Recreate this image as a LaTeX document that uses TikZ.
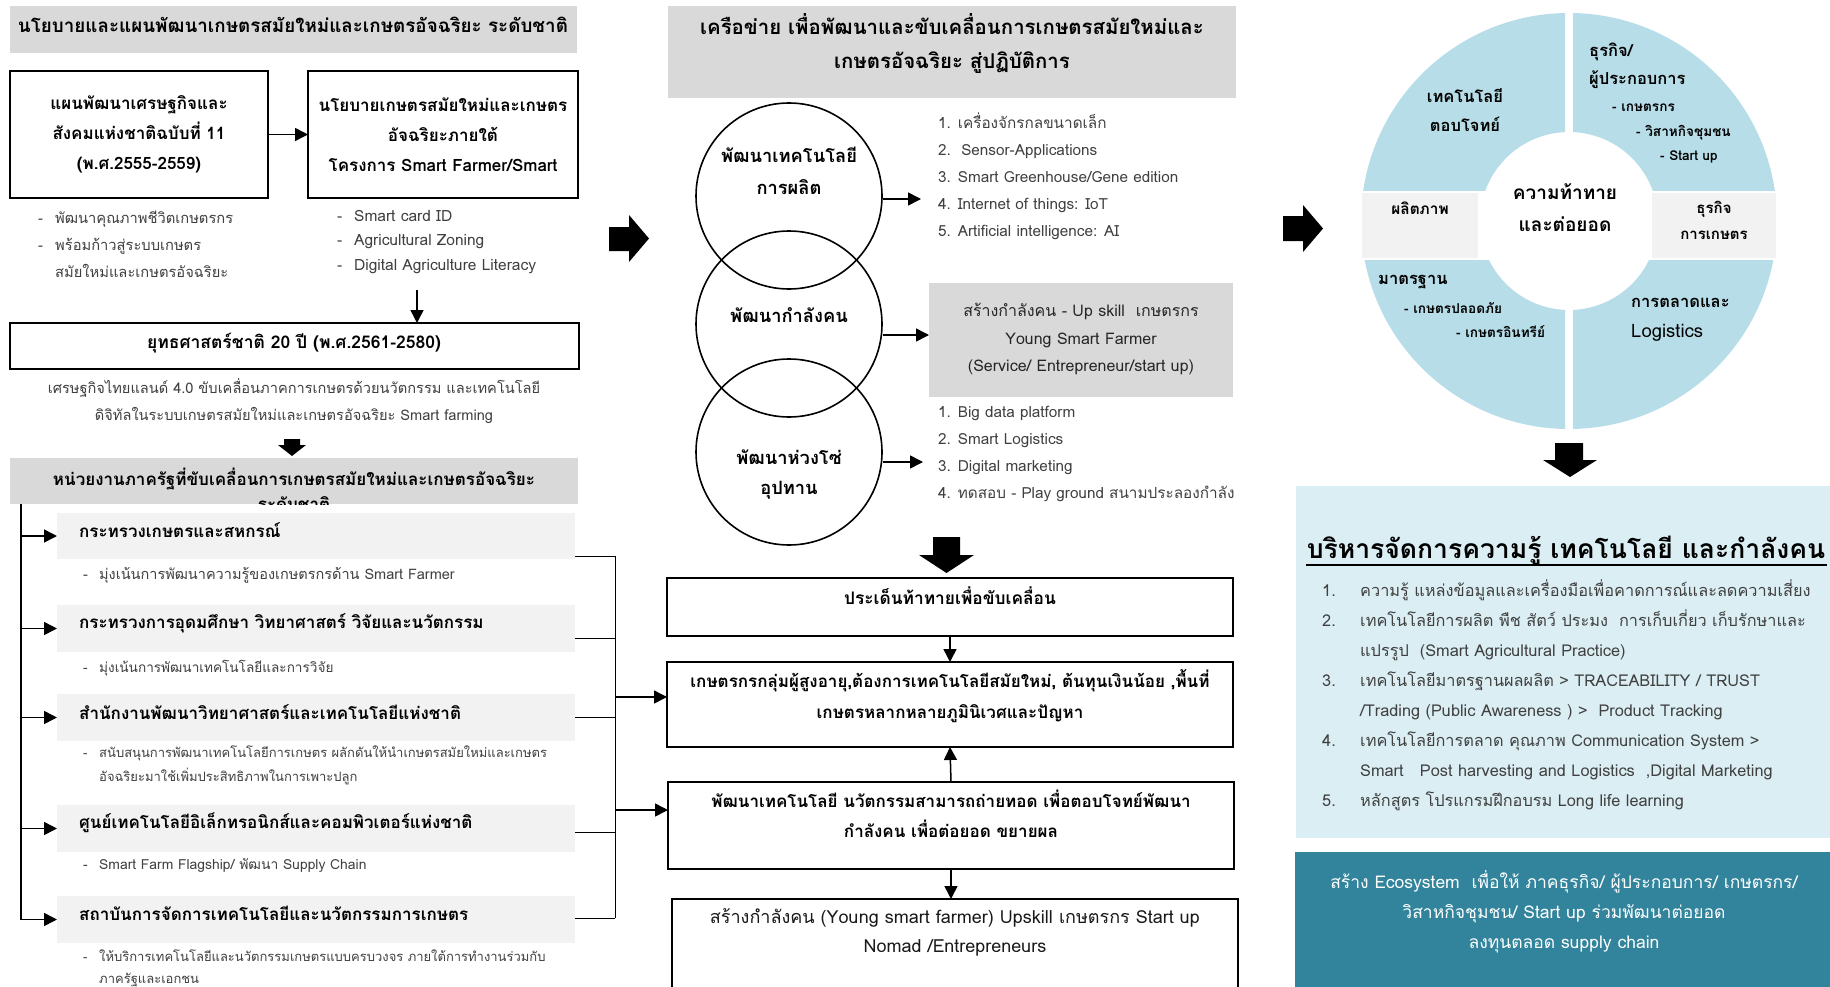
\documentclass[tikz,border=0pt]{standalone}
\usepackage{fontspec}
\setmainfont[Script=Thai]{Loma}
\usetikzlibrary{arrows.meta}
\definecolor{hdrgray}{HTML}{D9D9D9}
\definecolor{orggray}{HTML}{F2F2F2}
\definecolor{txtgray}{HTML}{404040}
\definecolor{ringblue}{HTML}{B7DDE8}
\definecolor{paleblue}{HTML}{DAEEF3}
\definecolor{ecoteal}{HTML}{31849B}
\newcommand{\tfs}[2]{\fontsize{#1}{#2}\selectfont}
\begin{document}
\begin{tikzpicture}[x=1pt,y=-1pt,
  panel/.style={anchor=north west, inner sep=0pt, outer sep=0pt},
  framebox/.style={panel, draw=black, line width=1.3pt, align=center},
  hdrbar/.style={panel, fill=hdrgray},
  orgbar/.style={panel, fill=orggray},
  head/.style={font=\bfseries\tfs{18.8}{33}, align=center, inner sep=0pt},
  orgtitle/.style={anchor=west, inner sep=0pt, font=\bfseries\tfs{17}{20}},
  plain/.style={anchor=west, inner sep=0pt, align=left, text=txtgray},
  ringtxt/.style={inner sep=0pt, font=\bfseries\tfs{16.5}{29}, align=center},
  ringitem/.style={anchor=west, inner sep=0pt, font=\bfseries\tfs{13.6}{16}},
  arr/.style={line width=1.5pt, -{Triangle[length=13pt,width=13pt]}},
  link/.style={line width=1pt},
  ring/.style={circle, draw=black, line width=1.6pt, minimum size=186pt, inner sep=0pt}
]
\useasboundingbox (0,0) rectangle (1830,987);
\clip (0,0) rectangle (1830,987);
\fill[white] (0,0) rectangle (1830,987);

% ================= national policy column =================
\node[hdrbar, minimum width=567pt, minimum height=47pt] (bar1) at (10,6) {};
\node[head] (bar1t) at (293,25) {นโยบายและแผนพัฒนาเกษตรสมัยใหม่และเกษตรอัจฉริยะ ระดับชาติ};

\node[framebox, minimum width=258pt, minimum height=127pt, font=\bfseries\tfs{17}{30}] (b1) at (10,71)
  {แผนพัฒนาเศรษฐกิจและ\\สังคมแห่งชาติฉบับที่ 11\\(พ.ศ.2555-2559)};
\node[framebox, minimum width=270pt, minimum height=127pt, font=\bfseries\tfs{17}{30}] (b2) at (308,71)
  {นโยบายเกษตรสมัยใหม่และเกษตร\\อัจฉริยะภายใต้\\โครงการ Smart Farmer/Smart};
\draw[arr] (b1.east) -- (b2.west);

\node[plain, font=\tfs{14.7}{27}] (bul1) at (38,245)
  {\begin{tabular}{@{}p{17pt}@{}l@{}}- & พัฒนาคุณภาพชีวิตเกษตรกร\\- & พร้อมก้าวสู่ระบบเกษตร\\ & สมัยใหม่และเกษตรอัจฉริยะ\end{tabular}};
\node[plain, font=\tfs{15.5}{24.5}] (bul2) at (337,241)
  {\begin{tabular}{@{}p{17pt}@{}l@{}}- & Smart card ID\\- & Agricultural Zoning\\- & Digital Agriculture Literacy\end{tabular}};

\coordinate (dropTop) at (417,290);
\node[framebox, minimum width=569pt, minimum height=46pt] (b3) at (10,323) {};
\node[font=\bfseries\tfs{17.5}{20}, inner sep=0pt] (b3t) at (294,343) {ยุทธศาสตร์ชาติ 20 ปี (พ.ศ.2561-2580)};
\draw[arr] (dropTop) -- (dropTop |- b3.north);

\node[font=\tfs{14.6}{27}, text=txtgray, align=center, inner sep=0pt] (sub3) at (294,401)
  {เศรษฐกิจไทยแลนด์ 4.0 ขับเคลื่อนภาคการเกษตรด้วยนวัตกรรม และเทคโนโลยี\\ดิจิทัลในระบบเกษตรสมัยใหม่และเกษตรอัจฉริยะ Smart farming};

% block arrow down
\fill (284,439) -- (300,439) -- (300,445) -- (306,445) -- (292,456) -- (278,445) -- (284,445) -- cycle;

\node[hdrbar, minimum width=568pt, minimum height=46pt] (bar2) at (10,458) {};
\begin{scope}
  \clip (bar2.south west) rectangle (bar2.north east);
  \node[head, font=\bfseries\tfs{17}{25}] (bar2t) at (294,489.5)
    {หน่วยงานภาครัฐที่ขับเคลื่อนการเกษตรสมัยใหม่และเกษตรอัจฉริยะ\\ระดับชาติ};
\end{scope}

% agencies
\node[orgbar, minimum width=518pt, minimum height=46pt] (o1) at (57,513) {};
\node[orgbar, minimum width=518pt, minimum height=47pt] (o2) at (57,605) {};
\node[orgbar, minimum width=518pt, minimum height=47pt] (o3) at (57,694) {};
\node[orgbar, minimum width=518pt, minimum height=47pt] (o4) at (57,805) {};
\node[orgbar, minimum width=518pt, minimum height=47pt] (o5) at (57,896) {};
\node[orgtitle] (o1t) at (79,530) {กระทรวงเกษตรและสหกรณ์};
\node[orgtitle] (o2t) at (79,623) {กระทรวงการอุดมศึกษา วิทยาศาสตร์ วิจัยและนวัตกรรม};
\node[orgtitle] (o3t) at (79,712) {สำนักงานพัฒนาวิทยาศาสตร์และเทคโนโลยีแห่งชาติ};
\node[orgtitle] (o4t) at (79,823) {ศูนย์เทคโนโลยีอิเล็กทรอนิกส์และคอมพิวเตอร์แห่งชาติ};
\node[orgtitle] (o5t) at (79,913) {สถาบันการจัดการเทคโนโลยีและนวัตกรรมการเกษตร};

\node[plain, font=\tfs{14.5}{24}] (ob1) at (83,575)
  {\begin{tabular}{@{}p{16pt}@{}l@{}}- & มุ่งเน้นการพัฒนาความรู้ของเกษตรกรด้าน Smart Farmer\end{tabular}};
\node[plain, font=\tfs{13.6}{24}] (ob2) at (83,668)
  {\begin{tabular}{@{}p{16pt}@{}l@{}}- & มุ่งเน้นการพัฒนาเทคโนโลยีและการวิจัย\end{tabular}};
\node[plain, font=\tfs{13}{24}] (ob3) at (83,765)
  {\begin{tabular}{@{}p{16pt}@{}l@{}}- & สนับสนุนการพัฒนาเทคโนโลยีการเกษตร ผลักดันให้นำเกษตรสมัยใหม่และเกษตร\\ & อัจฉริยะมาใช้เพิ่มประสิทธิภาพในการเพาะปลูก\end{tabular}};
\node[plain, font=\tfs{13.9}{24}] (ob4) at (83,865)
  {\begin{tabular}{@{}p{16pt}@{}l@{}}- & Smart Farm Flagship/ พัฒนา Supply Chain\end{tabular}};
\node[plain, font=\tfs{13}{22}] (ob5) at (83,968)
  {\begin{tabular}{@{}p{16pt}@{}l@{}}- & ให้บริการเทคโนโลยีและนวัตกรรมเกษตรแบบครบวงจร ภายใต้การทำงานร่วมกับ\\ & ภาครัฐและเอกชน\end{tabular}};

% trunk on the left
\coordinate (trTop) at (21,504);
\coordinate (trBot) at (21,919.5);
\draw[line width=1.3pt] (trTop) -- (trBot);
\foreach \o in {o1,o2,o3,o4,o5}
  \draw[arr] (\o.west -| trTop) -- (\o.west);

% bracket on the right
\coordinate (bk1) at (615,556);
\coordinate (bk2) at (615,638);
\coordinate (bk3) at (615,717);
\coordinate (bk4) at (615,832);
\coordinate (bk5) at (615,918);
\draw[link] (o1.east |- bk1) -- (bk1);
\draw[link] (o2.east |- bk2) -- (bk2);
\draw[link] (o3.east |- bk3) -- (bk3);
\draw[link] (o4.east |- bk4) -- (bk4);
\draw[link] (o5.east |- bk5) -- (bk5);
\draw[link] (bk1) -- (bk5);
\coordinate (bkB) at (615,697);
\coordinate (bkC) at (615,810);

% ================= network column =================
\node[hdrbar, minimum width=568pt, minimum height=92pt] (bar3) at (668,6) {};
\node[head, font=\bfseries\tfs{20.4}{34}] (bar3t) at (952,44)
  {เครือข่าย เพื่อพัฒนาและขับเคลื่อนการเกษตรสมัยใหม่และ\\เกษตรอัจฉริยะ สู่ปฏิบัติการ};

% block arrow right
\fill (609,227) -- (629,227) -- (629,215) -- (649,238.5) -- (629,262) -- (629,251) -- (609,251) -- cycle;

\node[ring] (c1) at (789,196) {};
\node[ring] (c2) at (789,324) {};
\node[ring] (c3) at (789,452) {};
\node[font=\bfseries\tfs{18.3}{32}, align=center, inner sep=0pt] (c1t) at (789,171) {พัฒนาเทคโนโลยี\\การผลิต};
\node[font=\bfseries\tfs{18.3}{32}, inner sep=0pt] (c2t) at (789,315) {พัฒนากำลังคน};
\node[font=\bfseries\tfs{18.3}{30}, align=center, inner sep=0pt] (c3t) at (789,475) {พัฒนาห่วงโซ่\\อุปทาน};

\node[plain, font=\tfs{15.3}{27}] (list1) at (938,176)
  {1. เครื่องจักรกลขนาดเล็ก\\2.~~Sensor-Applications\\3. Smart Greenhouse/Gene edition\\4. Internet of things: IoT\\5. Artificial intelligence: AI};
\node[hdrbar, minimum width=304pt, minimum height=114pt] (gb) at (929,283) {};
\node[font=\tfs{16}{27.5}, align=center, inner sep=0pt, text=black!85] (gbt) at (1081,339.5)
  {สร้างกำลังคน - Up skill~~เกษตรกร\\Young Smart Farmer\\(Service/ Entrepreneur/start up)};
\node[plain, font=\tfs{15.3}{27}] (list2) at (938,454)
  {1. Big data platform\\2. Smart Logistics\\3. Digital marketing\\4. ทดสอบ - Play ground สนามประลองกำลัง};

\coordinate (a1) at (921,199);
\coordinate (a2) at (929,335);
\coordinate (a3) at (923,462);
\draw[arr] (c1.east |- a1) -- (a1);
\draw[arr] (c2.east |- a2) -- (a2);
\draw[arr] (c3.east |- a3) -- (a3);

% block arrow down
\fill (933,537) -- (960,537) -- (960,555) -- (974,555) -- (946.5,573) -- (919,555) -- (933,555) -- cycle;

\node[framebox, minimum width=566pt, minimum height=58pt] (boxA) at (667,578) {};
\node[framebox, minimum width=566pt, minimum height=85pt] (boxB) at (667,662) {};
\node[framebox, minimum width=566pt, minimum height=87pt] (boxC) at (668,782) {};
\node[framebox, minimum width=566pt, minimum height=130pt] (boxD) at (672,899) {};
\node[font=\bfseries\tfs{17.3}{20}, inner sep=0pt] (boxAt) at (950,596) {ประเด็นท้าทายเพื่อขับเคลื่อน};
\node[font=\bfseries\tfs{17}{31}, align=center, inner sep=0pt] (boxBt) at (950,696)
  {เกษตรกรกลุ่มผู้สูงอายุ,ต้องการเทคโนโลยีสมัยใหม่, ต้นทุนเงินน้อย ,พื้นที่\\เกษตรหลากหลายภูมินิเวศและปัญหา};
\node[font=\bfseries\tfs{17}{30}, align=center, inner sep=0pt] (boxCt) at (951,814)
  {พัฒนาเทคโนโลยี นวัตกรรมสามารถถ่ายทอด เพื่อตอบโจทย์พัฒนา\\กำลังคน เพื่อต่อยอด ขยายผล};
\node[font=\tfs{18}{29}, align=center, inner sep=0pt, text=black!90] (boxDt) at (955,932.5)
  {สร้างกำลังคน (Young smart farmer) Upskill เกษตรกร Start up\\Nomad /Entrepreneurs};

\draw[arr] (boxA.south) -- (boxB.north);
\draw[arr] (boxC.north) -- (boxB.south);
\draw[arr] (boxC.south) -- (boxC.south |- boxD.north);
\draw[arr] (bkB) -- (bkB -| boxB.west);
\draw[arr] (bkC) -- (bkC -| boxC.west);

% ================= challenge wheel =================
\fill (1283,216) -- (1303,216) -- (1303,205) -- (1323,228.5) -- (1303,252) -- (1303,241) -- (1283,241) -- cycle;

\begin{scope}
  \clip (1300,0) rectangle (1565,191) (1573,0) rectangle (1830,191)
        (1300,260) rectangle (1565,440) (1573,260) rectangle (1830,440);
  \fill[ringblue, even odd rule] (1569,221) circle[radius=208pt] (1569,221) circle[radius=89pt];
\end{scope}
\node[orgbar, minimum width=116pt, minimum height=65pt] (gL) at (1362,193) {};
\node[orgbar, minimum width=124pt, minimum height=65pt] (gR) at (1652,193) {};

\node[ringtxt] (wTL) at (1465,110.5) {เทคโนโลยี\\ตอบโจทย์};
\node[ringtxt, anchor=west] (wTR1) at (1589,52) {ธุรกิจ/};
\node[ringtxt, anchor=west] (wTR2) at (1589,80) {ผู้ประกอบการ};
\node[ringitem] (wTR3) at (1612,108) {- เกษตรกร};
\node[ringitem] (wTR4) at (1636,133) {- วิสาหกิจชุมชน};
\node[ringitem] (wTR5) at (1660,157) {- Start up};
\node[inner sep=0pt, font=\bfseries\tfs{19}{32}, align=center] (wC) at (1565,208) {ความท้าทาย\\และต่อยอด};
\node[inner sep=0pt, font=\bfseries\tfs{15.4}{26}] (wL) at (1420,208) {ผลิตภาพ};
\node[inner sep=0pt, font=\bfseries\tfs{15}{26}, align=center] (wR) at (1714,220) {ธุรกิจ\\การเกษตร};
\node[ringtxt, anchor=west] (wBL1) at (1378,282) {มาตรฐาน};
\node[ringitem] (wBL2) at (1404,308) {- เกษตรปลอดภัย};
\node[ringitem] (wBL3) at (1456,332) {- เกษตรอินทรีย์};
\node[ringtxt, anchor=west] (wBR1) at (1631,303) {การตลาดและ};
\node[ringtxt, anchor=west, font=\tfs{18.5}{29}] (wBR2) at (1631,333) {Logistics};

\fill (1555,443) -- (1583,443) -- (1583,460) -- (1597,460) -- (1570,477) -- (1543,460) -- (1555,460) -- cycle;

% ================= knowledge management =================
\node[panel, fill=paleblue, minimum width=534pt, minimum height=352pt] (kb) at (1296,486) {};
\node[inner sep=0pt, font=\bfseries\tfs{26.5}{28}] (kbh) at (1566,551) {บริหารจัดการความรู้ เทคโนโลยี และกำลังคน};
\coordinate (ulA) at (1306,565);
\coordinate (ulB) at (1827,565);
\draw[line width=1.4pt] (ulA) -- (ulB);
\node[plain, font=\tfs{16.3}{30.1}] (kbl) at (1322,695.5)
  {\begin{tabular}{@{}p{38pt}@{}l@{}}
   1. & ความรู้ แหล่งข้อมูลและเครื่องมือเพื่อคาดการณ์และลดความเสี่ยง\\
   2. & เทคโนโลยีการผลิต พืช สัตว์ ประมง~~การเก็บเกี่ยว เก็บรักษาและ\\
      & แปรรูป~~(Smart Agricultural Practice)\\
   3. & เทคโนโลยีมาตรฐานผลผลิต > TRACEABILITY / TRUST\\
      & /Trading (Public Awareness ) >~~Product Tracking\\
   4. & เทคโนโลยีการตลาด คุณภาพ Communication System >\\
      & Smart\hspace{1em}Post harvesting and Logistics~~,Digital Marketing\\
   5. & หลักสูตร โปรแกรมฝึกอบรม Long life learning
  \end{tabular}};

\node[panel, fill=ecoteal, minimum width=535pt, minimum height=140pt] (eco) at (1295,852) {};
\node[inner sep=0pt, text=white, font=\tfs{17.5}{30}, align=center] (ecot) at (1564,912)
  {สร้าง Ecosystem~~เพื่อให้ ภาคธุรกิจ/ ผู้ประกอบการ/ เกษตรกร/\\วิสาหกิจชุมชน/ Start up ร่วมพัฒนาต่อยอด\\ลงทุนตลอด supply chain};
\end{tikzpicture}
\end{document}
